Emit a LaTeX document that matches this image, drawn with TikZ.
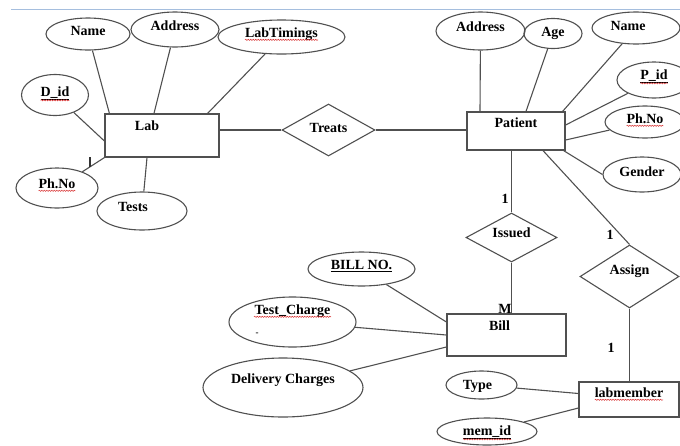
\documentclass[tikz,border=0pt]{standalone}
\usepackage{fontspec}
\setmainfont{Liberation Serif}
\usetikzlibrary{shapes.geometric, decorations.pathmorphing}

\definecolor{edgegray}{RGB}{80,80,80}
\definecolor{rulerblue}{RGB}{165,190,222}
\definecolor{spellred}{RGB}{215,45,45}

\begin{document}
\begin{tikzpicture}[x=1pt, y=-1pt,
    every node/.style={font=\fontsize{14}{16}\selectfont\bfseries},
    entity/.style={draw=edgegray, line width=1.2pt, rectangle, inner sep=0pt, text height=9pt},
    attrib/.style={draw=edgegray, line width=1.1pt, ellipse, inner sep=0pt, text height=9pt, text depth=6.4pt},
    relation/.style={draw=edgegray, line width=1.1pt, diamond, aspect=1.8, inner sep=0pt, text height=9pt},
    link/.style={draw=edgegray, line width=1.1pt},
    card/.style={inner sep=0pt},
    spell/.style={draw=spellred, line width=0.5pt, decorate, decoration={snake, amplitude=0.6pt, segment length=2.5pt}}]
        \useasboundingbox (0,0) rectangle (680,445);
        \draw[rulerblue, line width=0.8pt] (11,9.5) -- (680,9.5);

        % --- Draw Lab and its attributes ---
        \node[entity, minimum width=114pt, minimum height=43pt, text depth=19.4pt] (lab) at (162,135.5) {Lab\hspace*{30pt}};
        \node[attrib, minimum width=84pt, minimum height=32pt] (labname) at (88,34) {Name};
        \node[attrib, minimum width=88pt, minimum height=35pt] (labaddr) at (175,29.5) {Address};
        \node[attrib, minimum width=127pt, minimum height=34pt, text depth=8.4pt] (labtime) at (281.5,37) {LabTimings};
        \node[attrib, minimum width=67pt, minimum height=41pt] (did) at (55,95) {\underline{D\_id}};
        \node[attrib, minimum width=82pt, minimum height=40pt, text depth=8.4pt] (labphone) at (57,188) {Ph.No};
        \node[attrib, minimum width=90pt, minimum height=38pt, text depth=8.4pt] (tests) at (142,211) {Tests\hspace*{18pt}};
        \draw[link] (labname) -- ([xshift=5pt]lab.north west);
        \draw[link] (labaddr) -- ([xshift=-8pt]lab.north);
        \draw[link] (labtime) -- ([xshift=-12pt]lab.north east);
        \draw[link] (did) -- ([yshift=-5.5pt]lab.west);
        \draw[link] (labphone) -- (lab.south west);
        \draw[link] (tests) -- ([xshift=-15pt]lab.south);
        \draw[line width=1.6pt, black!80] (90,157) -- (90,167);
        % ---

        % --- Draw Patient and its attributes ---
        \node[entity, minimum width=98pt, minimum height=38pt, text depth=16.4pt] (patient) at (516,131) {Patient};
        \node[attrib, minimum width=89pt, minimum height=38pt, text depth=8.4pt] (pataddr) at (480.5,31) {Address};
        \node[attrib, minimum width=58pt, minimum height=30pt, text depth=2.4pt] (age) at (553,33.5) {Age};
        \node[attrib, minimum width=88pt, minimum height=32pt, text depth=4.4pt] (patname) at (636,28) {Name\hspace*{16pt}};
        \node[attrib, minimum width=74pt, minimum height=36pt, text depth=10.4pt] (pid) at (654,80) {\underline{P\_id}};
        \node[attrib, minimum width=80pt, minimum height=32pt] (patphone) at (645,122) {Ph.No};
        \node[attrib, minimum width=78pt, minimum height=35pt, text depth=4.4pt] (gender) at (642,174.5) {Gender};
        \draw[link] (pataddr) -- ([xshift=-36pt]patient.north);
        \draw[link] (age) -- ([xshift=10pt]patient.north);
        \draw[link] (patname) -- ([xshift=-3pt]patient.north east);
        \draw[link] (pid) -- ([yshift=6pt]patient.east);
        \draw[link] (patphone) -- ([yshift=-9pt]patient.east);
        \draw[link] (gender.west) -- ([xshift=-2pt]patient.south east);
        % ---

        % --- Draw Treats between Lab and Patient ---
        \node[relation, minimum width=93pt, minimum height=52pt, text depth=4.4pt] (treats) at (328.5,130) {Treats};
        \draw[link] (treats.west) -- (treats.west -| lab.east);
        \draw[link] (treats.east) -- (treats.east -| patient.west);
        % ---

        % --- Draw Issued, Bill and the bill attributes ---
        \node[relation, minimum width=91pt, minimum height=49pt, text depth=9.4pt] (issued) at (511.5,237.5) {Issued};
        \node[entity, minimum width=119pt, minimum height=42pt, text depth=18.4pt] (bill) at (506.5,335) {Bill\hspace*{14pt}};
        \node[attrib, minimum width=107pt, minimum height=34pt, text depth=8.4pt] (billno) at (361.5,269) {\underline{BILL NO.}};
        \node[attrib, minimum width=127pt, minimum height=50pt, text depth=24.4pt] (testcharge) at (292.5,322) {Test\_Charge};
        \node[card, font=\fontsize{9}{10}\selectfont\bfseries] (tcdash) at (257,334) {-};
        \node[attrib, minimum width=160pt, minimum height=59pt, text depth=16.4pt] (delivery) at (283,387.5) {Delivery Charges};
        \draw[link] (issued.north) -- (issued.north |- patient.south);
        \draw[link] (issued.south) -- (issued.south |- bill.north);
        \draw[link] (billno) -- ([yshift=13pt]bill.west);
        \draw[link] (testcharge) -- (bill.west);
        \draw[link] (delivery) -- ([yshift=-12pt]bill.west);
        \node[card] (cardiss) at (505,199) {1};
        \node[card] (cardbill) at (505,309) {M};
        % ---

        % --- Draw Assign, labmember and its attributes ---
        \node[relation, minimum width=99pt, minimum height=63pt, text depth=13.4pt] (assign) at (629.5,276.5) {Assign};
        \node[entity, minimum width=100pt, minimum height=35pt, text depth=13.4pt] (member) at (629,399.5) {labmember};
        \node[attrib, minimum width=71pt, minimum height=28pt, text depth=0.4pt] (mtype) at (481.5,385) {Type\hspace*{8pt}};
        \node[attrib, minimum width=100pt, minimum height=27pt, text depth=1.4pt] (memid) at (487,431.5) {\underline{mem\_id}};
        \draw[link] ([xshift=27pt]patient.south) -- (assign.north);
        \draw[link] (assign.south) -- (assign.south |- member.north);
        \draw[link] (mtype) -- ([yshift=6pt]member.west);
        \draw[link] (memid) -- ([yshift=-8.5pt]member.west);
        \node[card] (cardasg) at (610,235) {1};
        \node[card] (cardmem) at (611,348) {1};
        % ---

        % --- Red spelling marks under some words ---
        \foreach \nd/\w/\d in {labtime/73.1/2.5, did/28.8/4, labphone/36.9/2.5, pid/27.2/4,
                               patphone/36.9/2.5, testcharge/77/2.5, member/68.4/2.5, memid/48.2/4}
            \draw[spell] ([xshift=-\w/2, yshift=-\d]\nd.base) -- ++(\w,0);
        % ---
\end{tikzpicture}
\end{document}
